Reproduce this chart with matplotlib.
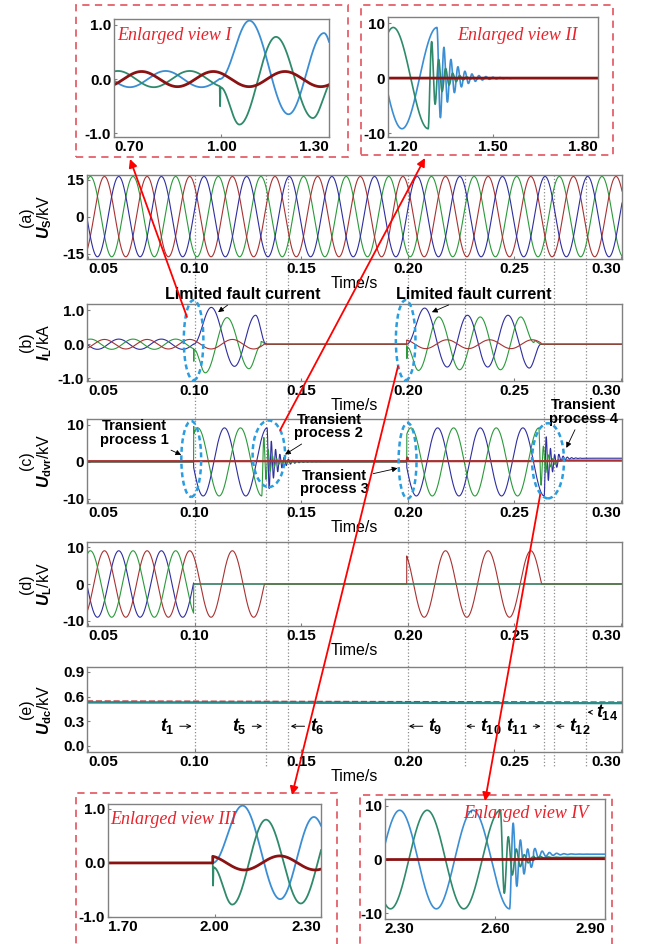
import numpy as np
import matplotlib
matplotlib.use("Agg")
import matplotlib.pyplot as plt
from matplotlib.patches import Ellipse, Rectangle, ConnectionPatch
from matplotlib.lines import Line2D
from matplotlib.transforms import blended_transform_factory

plt.rcParams['font.family'] = ['Liberation Sans', 'DejaVu Sans']
plt.rcParams['font.weight'] = 'bold'
plt.rcParams['mathtext.fontset'] = 'custom'
plt.rcParams['mathtext.it'] = 'Liberation Sans:italic:bold'
plt.rcParams['mathtext.rm'] = 'Liberation Sans:bold'
plt.rcParams['mathtext.bf'] = 'Liberation Sans:bold'

# ---------------- values ----------------
T_RANGE = [0.0495, 0.3005]
TIME_TICKS = [0.05, 0.10, 0.15, 0.20, 0.25, 0.30]
FAULT_T = [0.0995, 0.1995]            # fault inception (t1, t9)
CLEAR_T = [0.1335, 0.2625]            # current back to zero
MARK_T = [0.1000, 0.1335, 0.1438, 0.2000, 0.2268, 0.2637, 0.2685, 0.2837]
PEAK_T = [0.0844, 0.0777, 0.0711]     # crest time of blue, red, green phase

US_AMP = 16.3                         # source voltage (kV)
UL_AMP = 9.1                          # load voltage (kV)
UL_RED_END = [0.1327, 0.2627]
IL_PRE_AMP = 0.15                     # pre-fault load current (kA)
IL_RED_AMP = [0.14, 0.13]
IL_RED_PEAK2 = 0.2184

# load current extrema during the two faults (s, kA)
IL_BLUE_T = [[0.0995, 0.1078, 0.1187, 0.1286, 0.1335],
             [0.1995, 0.2079, 0.2185, 0.2280, 0.2375, 0.2470, 0.2570, 0.2625]]
IL_BLUE_V = [[0.0, 1.08, -0.65, 0.85, 0.0],
             [0.0, 1.06, -0.67, 0.85, -0.67, 0.85, -0.70, 0.0]]
IL_GREEN_T = [[0.0995, 0.0996, 0.0997, 0.1050, 0.1152, 0.1255, 0.1310, 0.1312, 0.1335],
              [0.1995, 0.1996, 0.1997, 0.2050, 0.2145, 0.2243, 0.2340, 0.2435, 0.2530, 0.2592, 0.2594, 0.2625]]
IL_GREEN_V = [[-0.13, -0.50, -0.15, -0.84, 0.78, -0.72, -0.05, 0.08, 0.0],
              [0.0, -0.42, -0.08, -0.77, 0.80, -0.75, 0.80, -0.75, 0.80, 0.05, 0.1, 0.0]]

# DVR voltage (kV)
C_AMP = 9.2
C_GREEN_PEAK = [0.1015, 0.2015]
C_BLUE_PEAK = [0.1140, 0.2140]
C_GREEN_END = [0.1315, 0.2615]
C_BLUE_END = [0.1340, 0.2640]
C_RING_F = [500.0, 460.0]
C_RING_TAU_GREEN = [0.0030, 0.0028]
C_RING_TAU_BLUE = [0.0040, 0.0032]
C_STEP_T = 0.2705
C_STEP_V = [1.0, 0.4]                 # blue, green level after t12
C_RED_T = [0.0495, 0.1995, 0.1997, 0.2003, 0.2705, 0.2707, 0.3005]
C_RED_V = [0.2, 0.2, 1.2, 0.2, 0.2, 0.35, 0.35]

# DC-link voltage (kV), start / end level
UDC_START = [0.545, 0.535, 0.528]     # red, green, teal
UDC_END = [0.532, 0.525, 0.520]

BLUE, RED, GREEN = '#2e2ea0', '#a83232', '#2a9a3a'
IBLUE, IRED, IGREEN = '#3b8ed4', '#8a1212', '#2f8a6c'
TEAL = '#2a8c8c'

# ---------------- waveforms ----------------
t = np.linspace(T_RANGE[0], T_RANGE[1], 30001)


def wave(amp, t_pk, f=50.0):
    return amp * np.cos(2 * np.pi * f * (t - t_pk))


def path(tk, vk):
    out = np.zeros_like(t)
    for t0, t1, v0, v1 in zip(tk[:-1], tk[1:], vk[:-1], vk[1:]):
        m = (t >= t0) & (t <= t1)
        s = (t[m] - t0) / (t1 - t0)
        out[m] = v0 + (v1 - v0) * (1 - np.cos(np.pi * s)) / 2
    return out


def seg(a, b):
    return (t >= a) & (t < b)


def ring(t0, amp, f, tau):
    dt = np.clip(t - t0, 0, None)
    return np.where(t >= t0, amp * np.exp(-dt / tau) * np.cos(2 * np.pi * f * dt), 0.0)


F1, F2 = FAULT_T
us = [wave(US_AMP, p) for p in PEAK_T]

il_blue = np.where(t < F1, wave(IL_PRE_AMP, PEAK_T[0]), 0) + \
    path(IL_BLUE_T[0], IL_BLUE_V[0]) + path(IL_BLUE_T[1], IL_BLUE_V[1])
il_green = np.where(t < F1, wave(IL_PRE_AMP, PEAK_T[2]), 0) + \
    path(IL_GREEN_T[0], IL_GREEN_V[0]) + path(IL_GREEN_T[1], IL_GREEN_V[1])
il_red = np.where(t < CLEAR_T[0], wave(IL_RED_AMP[0], PEAK_T[1]), 0) + \
    np.where(seg(F2, CLEAR_T[1]), wave(IL_RED_AMP[1], IL_RED_PEAK2), 0)

c_green = np.where(seg(F1, C_GREEN_END[0]), wave(C_AMP, C_GREEN_PEAK[0]), 0) + \
    np.where(seg(C_GREEN_END[0], F2), ring(C_GREEN_END[0], -C_AMP, C_RING_F[0], C_RING_TAU_GREEN[0]), 0) + \
    np.where(seg(F2, C_GREEN_END[1]), wave(C_AMP, C_GREEN_PEAK[1]), 0) + \
    ring(C_GREEN_END[1], C_AMP, C_RING_F[1], C_RING_TAU_GREEN[1]) + \
    np.where(t >= C_STEP_T, C_STEP_V[1], 0) + \
    path([F1, F1 + 0.00008, F1 + 0.00016], [0, 2.0, 0])
c_blue = np.where(seg(F1, C_BLUE_END[0]), wave(C_AMP, C_BLUE_PEAK[0]), 0) + \
    np.where(seg(C_BLUE_END[0], F2), ring(C_BLUE_END[0], C_AMP, C_RING_F[0], C_RING_TAU_BLUE[0]), 0) + \
    np.where(seg(F2, C_BLUE_END[1]), wave(C_AMP, C_BLUE_PEAK[1]), 0) + \
    ring(C_BLUE_END[1], -C_AMP, C_RING_F[1] * 1.1, C_RING_TAU_BLUE[1]) + \
    np.where(t >= C_STEP_T, C_STEP_V[0], 0)
c_red = path(C_RED_T, C_RED_V)

ul_blue = np.where(t < F1, wave(UL_AMP, PEAK_T[0]), 0)
ul_green = np.where(t < F1, wave(UL_AMP, PEAK_T[2]), 0)
ul_red = np.where(t < UL_RED_END[0], wave(UL_AMP, PEAK_T[1]), 0) + \
    np.where(seg(F2, UL_RED_END[1]), wave(UL_AMP, PEAK_T[1]), 0)

# ---------------- layout ----------------
W, H = 645, 944
fig = plt.figure(figsize=(W / 100, H / 100), dpi=100)


def px_axes(l, tp, r, b):
    return fig.add_axes([l / W, 1 - b / H, (r - l) / W, (b - tp) / H])


def fpt(x, y):
    return (x / W, 1 - y / H)


def style(ax, xlim, xticks, xlabels, ylim, yticks, ylabels):
    ax.set_xlim(xlim)
    ax.set_ylim(ylim)
    ax.set_xticks(xticks)
    ax.set_xticklabels(xlabels)
    ax.set_yticks(yticks)
    ax.set_yticklabels(ylabels)
    ax.patch.set_alpha(0)
    for s in ax.spines.values():
        s.set_color('#808080')
        s.set_linewidth(1.0)
    ax.tick_params(length=2, direction='in', color='#808080', labelsize=11, pad=2)
    labs = ax.get_xticklabels()
    labs[0].set_ha('left')
    labs[-1].set_ha('right')


main_box = [(175, 259), (304, 381), (419, 503), (542, 626), (667, 752)]
axs = [px_axes(87, tp, 622, b) for tp, b in main_box]
ax_a, ax_b, ax_c, ax_d, ax_e = axs

tlabels = ['%.2f' % v for v in TIME_TICKS]
style(ax_a, T_RANGE, TIME_TICKS, tlabels, (-17.2, 16.9), [-15, 0, 15], ['-15', '0', '15'])
style(ax_b, T_RANGE, TIME_TICKS, tlabels, (-1.08, 1.18), [-1, 0, 1], ['-1.0', '0.0', '1.0'])
style(ax_c, T_RANGE, TIME_TICKS, tlabels, (-11.1, 11.6), [-10, 0, 10], ['-10', '0', '10'])
style(ax_d, T_RANGE, TIME_TICKS, tlabels, (-11.5, 11.5), [-10, 0, 10], ['-10', '0', '10'])
style(ax_e, T_RANGE, TIME_TICKS, tlabels, (-0.073, 0.96), [0, 0.3, 0.6, 0.9],
      ['0.0', '0.3', '0.6', '0.9'])

ylabels = [r'(a)' + '\n' + r'$U_\mathrm{S}$/kV', r'(b)' + '\n' + r'$I_\mathrm{L}$/kA',
           r'(c)' + '\n' + r'$U_\mathrm{dvr}$/kV', r'(d)' + '\n' + r'$U_\mathrm{L}$/kV',
           r'(e)' + '\n' + r'$U_\mathrm{dc}$/kV']
for ax, lab in zip(axs, ylabels):
    ax.set_ylabel(lab, fontsize=11.5, linespacing=1.05)
    ax.yaxis.set_label_coords(-0.062, 0.5)
    ax.set_xlabel('Time/s', fontsize=11.5, labelpad=0)

lw = 0.8
ax_a.plot(t, us[2], color=GREEN, lw=lw)
ax_a.plot(t, us[1], color=RED, lw=lw)
ax_a.plot(t, us[0], color=BLUE, lw=lw)

ax_b.plot(t, il_blue, color=BLUE, lw=lw)
ax_b.plot(t, il_green, color=GREEN, lw=lw)
ax_b.plot(t, il_red, color=RED, lw=lw)

ax_c.plot(t, c_blue, color=BLUE, lw=lw)
ax_c.plot(t, c_green, color=GREEN, lw=lw)
ax_c.plot(t, c_red, color=RED, lw=1.6)

ax_d.plot(t, ul_blue, color=BLUE, lw=lw)
ax_d.plot(t, ul_red, color=RED, lw=lw)
ax_d.plot(t, ul_green, color=GREEN, lw=lw)

for v0, v1, col, ls, w in zip(UDC_START, UDC_END, [RED, GREEN, TEAL], ['--', '-', '-'], [1.2, 1.0, 1.6]):
    ax_e.plot(T_RANGE, [v0, v1], color=col, ls=ls, lw=w)

# dotted time markers through all panels
tr = blended_transform_factory(ax_a.transData, fig.transFigure)
for tm in MARK_T:
    fig.add_artist(Line2D([tm, tm], [1 - 175 / H, 1 - 766 / H], transform=tr,
                          color='#8c8c8c', ls=':', lw=0.9, zorder=-1))

# dashed ellipses
ell_kw = dict(fill=False, ec='#2a9de0', lw=1.8, ls=(0, (2, 1.4)), clip_on=False, zorder=6)
for cx in [0.0995, 0.1990]:
    ax_b.add_patch(Ellipse((cx, 0.12), 0.0092, 2.35, **ell_kw))
for (cx, cy), w, h in zip([(0.0984, 0.8), (0.1348, 2.2), (0.1999, 0.3), (0.2658, 0.3)],
                          [0.0093, 0.0152, 0.0084, 0.0150], [20.5, 18.0, 20.5, 20.3]):
    ax_c.add_patch(Ellipse((cx, cy), w, h, **ell_kw))

arr = dict(arrowstyle='-|>', color='black', lw=0.6, mutation_scale=8, shrinkA=1, shrinkB=0)
for txt, xy, xyt in [('Limited fault current', (0.1110, 0.94), (0.1225, 1.47)),
                     ('Limited fault current', (0.2113, 0.94), (0.2310, 1.47))]:
    ax_b.annotate(txt, xy=xy, xytext=xyt, ha='center', va='center', fontsize=11.5,
                  arrowprops=arr, annotation_clip=False)

for txt, xy, xyt in [('Transient\nprocess 1', (0.0937, 1.9), (0.0717, 7.8)),
                     ('Transient\nprocess 2', (0.1424, 2.0), (0.1630, 9.5)),
                     ('Transient\nprocess 3', (0.1952, -1.7), (0.1657, -5.5)),
                     ('Transient\nprocess 4', (0.2744, 3.8), (0.2824, 13.5))]:
    ax_c.annotate(txt, xy=xy, xytext=xyt, ha='center', va='center', fontsize=10.5,
                  linespacing=0.95, arrowprops=arr, annotation_clip=False)

t_lab = ['1', '5', '6', '9', '10', '11', '12', '14']
t_txt = [0.0870, 0.1210, 0.1576, 0.2130, 0.2390, 0.2512, 0.2809, 0.2936]
t_tip = [0.0986, 0.1317, 0.1451, 0.2005, 0.2274, 0.2623, 0.2695, 0.2843]
t_y = [0.24, 0.24, 0.24, 0.24, 0.24, 0.24, 0.24, 0.41]
tarr = dict(arrowstyle='->', color='black', lw=0.7, mutation_scale=7, shrinkA=2, shrinkB=0)
for lab, xt, xp, yy in zip(t_lab, t_txt, t_tip, t_y):
    ax_e.annotate(r'$t_{%s}$' % lab, xy=(xp, yy), xytext=(xt, yy), ha='center', va='center',
                  fontsize=13, arrowprops=tarr)

# ---------------- enlarged views ----------------
ins = {
    'I': px_axes(114, 19, 329, 137),
    'II': px_axes(388, 17, 598, 137),
    'III': px_axes(108, 804, 321, 917),
    'IV': px_axes(385, 799, 605, 919),
}
ts = t * 10
style(ins['I'], (0.70, 1.30), [0.70, 1.00, 1.30], ['0.70', '1.00', '1.30'],
      (-1.07, 1.11), [-1, 0, 1], ['-1.0', '0.0', '1.0'])
style(ins['II'], (1.20, 1.80), [1.20, 1.50, 1.80], ['1.20', '1.50', '1.80'],
      (-10.7, 11.1), [-10, 0, 10], ['-10', '0', '10'])
style(ins['III'], (1.70, 2.30), [1.70, 2.00, 2.30], ['1.70', '2.00', '2.30'],
      (-1.0, 1.09), [-1, 0, 1], ['-1.0', '0.0', '1.0'])
style(ins['IV'], (2.30, 2.90), [2.30, 2.60, 2.90], ['2.30', '2.60', '2.90'],
      (-11.1, 11.3), [-10, 0, 10], ['-10', '0', '10'])

for key in ['I', 'III']:
    a = ins[key]
    a.plot(ts, il_blue, color=IBLUE, lw=1.3)
    a.plot(ts, il_green, color=IGREEN, lw=1.3)
    a.plot(ts, il_red, color=IRED, lw=2.0)
for key in ['II', 'IV']:
    a = ins[key]
    a.plot(ts, c_blue, color=IBLUE, lw=1.2)
    a.plot(ts, c_green, color=IGREEN, lw=1.2)
    a.plot(ts, c_red - 0.2, color=IRED, lw=2.0)

for key, (x, y) in zip(['I', 'II', 'III', 'IV'], [(0.015, 0.86), (0.33, 0.85), (0.01, 0.86), (0.355, 0.875)]):
    ins[key].text(x, y, 'Enlarged view ' + key, transform=ins[key].transAxes, fontsize=13,
                  family='Liberation Serif', style='italic', weight='normal', color='#e8222a',
                  va='center', ha='left')

# dashed red frames around the enlarged views
for x0, y0, x1, y1 in [(76, 5, 348, 157), (361, 5, 613, 155), (76, 793, 337, 950), (360, 795, 612, 950)]:
    fig.add_artist(Rectangle(fpt(x0, y1), (x1 - x0) / W, (y1 - y0) / H, transform=fig.transFigure,
                             fill=False, ec='#e4606a', lw=1.3, ls=(0, (4, 3))))

# red arrows from the events to the enlarged views
for ax, xy, end in [(ax_b, (0.0964, 0.8), (130, 159)), (ax_c, (0.1401, 8.6), (425, 158)),
                    (ax_b, (0.1954, -0.65), (292, 795)), (ax_c, (0.2621, -8.9), (485, 801))]:
    fig.add_artist(ConnectionPatch(xyA=xy, coordsA=ax.transData, xyB=fpt(*end),
                                   coordsB=fig.transFigure, arrowstyle='-|>', color='red',
                                   lw=1.3, mutation_scale=12, zorder=8))

fig.savefig('out.png', dpi=100)
